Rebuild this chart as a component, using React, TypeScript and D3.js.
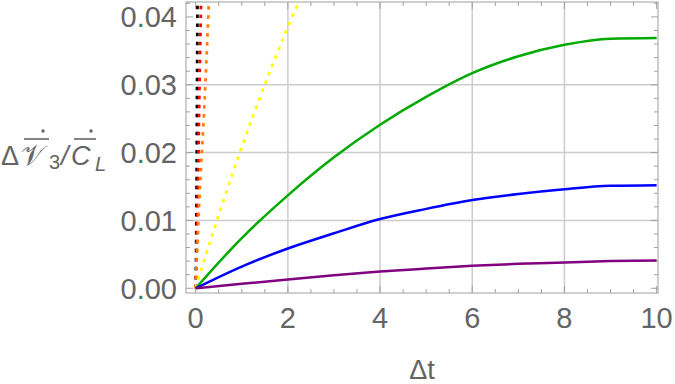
import React, { useRef, useEffect } from "react";
import * as d3 from "d3";

// solid curves, read at integer Δt
const dtGrid = [0, 1, 2, 3, 4, 5, 6, 7, 8, 9, 10];
const purpleVals = [0, 0.00065, 0.00128, 0.0019, 0.00246, 0.0029, 0.0033, 0.0036, 0.0038, 0.004, 0.0041];
const blueVals = [0, 0.0032, 0.00586, 0.0081, 0.0102, 0.0117, 0.013, 0.0139, 0.0146, 0.0151, 0.0152];
const greenVals = [0, 0.0074, 0.0137, 0.0193, 0.0241, 0.0282, 0.0317, 0.0342, 0.0359, 0.0368, 0.0369];

// dashed curves (steep, run off the top)
const yellowX = [0, 0.25, 0.5, 1, 1.5, 2, 2.3];
const yellowY = [0, 0.0055, 0.0108, 0.0208, 0.03, 0.0385, 0.0432];
const orangeX = [0, 0.08, 0.21, 0.29];
const orangeY = [0, 0.013, 0.03, 0.043];
const redX = [0, 0.045, 0.083, 0.118];
const redY = [0, 0.013, 0.03, 0.043];
const blackX = [0, 0.02, 0.03, 0.04];
const blackY = [0, 0.015, 0.03, 0.043];

const xTicks = [0, 2, 4, 6, 8, 10];
const yTicks = [0, 0.01, 0.02, 0.03, 0.04];
const xGrid = [2, 4, 6, 8];
const yGrid = [0.01, 0.02, 0.03];

const W = 675;
const H = 384;
const box = { left: 186, right: 658, top: 2, bottom: 293 };

const App: React.FC = () => {
  const svgRef = useRef<SVGSVGElement>(null);

  useEffect(() => {
    if (!svgRef.current) return;
    const svg = d3.select(svgRef.current);
    svg.selectAll("*").remove();

    const x = d3.scaleLinear().domain([-0.21, 10.03]).range([box.left, box.right]);
    const y = d3.scaleLinear().domain([-0.0007, 0.0422]).range([box.bottom, box.top]);

    const frameCol = "#a0a0a0";
    const labelCol = "#646464";
    const font = "'Liberation Sans', Arial, sans-serif";

    svg
      .append("defs")
      .append("clipPath")
      .attr("id", "plotClip")
      .append("rect")
      .attr("x", box.left)
      .attr("y", box.top)
      .attr("width", box.right - box.left)
      .attr("height", box.bottom - box.top);

    // grid lines
    const grid = svg.append("g").attr("stroke", "#cccccc").attr("stroke-width", 1.5);
    xGrid.forEach((v) => {
      grid.append("line").attr("x1", x(v)).attr("x2", x(v)).attr("y1", box.top).attr("y2", box.bottom);
    });
    yGrid.forEach((v) => {
      grid.append("line").attr("x1", box.left).attr("x2", box.right).attr("y1", y(v)).attr("y2", y(v));
    });

    // frame ticks (all four sides, inward)
    const ticks = svg.append("g").attr("stroke", frameCol).attr("stroke-width", 1);
    const xMinor = d3.range(0, 10.01, 0.5);
    const yMinor = d3.range(0, 0.0421, 0.002);
    xMinor.forEach((v) => {
      const len = Math.abs(v % 2) < 1e-9 ? 7 : 4;
      ticks.append("line").attr("x1", x(v)).attr("x2", x(v)).attr("y1", box.bottom).attr("y2", box.bottom - len);
      ticks.append("line").attr("x1", x(v)).attr("x2", x(v)).attr("y1", box.top).attr("y2", box.top + len);
    });
    yMinor.forEach((v, i) => {
      const len = i % 5 === 0 ? 7 : 4;
      ticks.append("line").attr("x1", box.left).attr("x2", box.left + len).attr("y1", y(v)).attr("y2", y(v));
      ticks.append("line").attr("x1", box.right).attr("x2", box.right - len).attr("y1", y(v)).attr("y2", y(v));
    });

    // curves
    const plot = svg.append("g").attr("clip-path", "url(#plotClip)");
    const line = d3
      .line<[number, number]>()
      .x((d) => x(d[0]))
      .y((d) => y(d[1]))
      .curve(d3.curveMonotoneX);

    const dashed: [number[], number[], string][] = [
      [blackX, blackY, "#000000"],
      [redX, redY, "#ff0000"],
      [orangeX, orangeY, "#ff8000"],
      [yellowX, yellowY, "#ffff00"],
    ];
    dashed.forEach(([xs, ys, c]) => {
      plot
        .append("path")
        .datum(xs.map((v, i) => [v, ys[i]] as [number, number]))
        .attr("fill", "none")
        .attr("stroke", c)
        .attr("stroke-width", 2.8)
        .attr("stroke-dasharray", "3.5,5.5")
        .attr("d", line);
    });

    const solid: [number[], string][] = [
      [greenVals, "#00aa00"],
      [blueVals, "#0000ff"],
      [purpleVals, "#800080"],
    ];
    solid.forEach(([ys, c]) => {
      plot
        .append("path")
        .datum(dtGrid.map((v, i) => [v, ys[i]] as [number, number]))
        .attr("fill", "none")
        .attr("stroke", c)
        .attr("stroke-width", 2.5)
        .attr("d", line);
    });

    // frame
    svg
      .append("rect")
      .attr("x", box.left)
      .attr("y", box.top)
      .attr("width", box.right - box.left)
      .attr("height", box.bottom - box.top)
      .attr("fill", "none")
      .attr("stroke", frameCol)
      .attr("stroke-width", 1);

    // tick labels
    const lbl = svg.append("g").attr("fill", labelCol).attr("font-family", font).attr("font-size", 29);
    xTicks.forEach((v) => {
      lbl.append("text").attr("x", x(v)).attr("y", 328).attr("text-anchor", "middle").text(String(v));
    });
    yTicks.forEach((v) => {
      lbl
        .append("text")
        .attr("x", 177)
        .attr("y", y(v) + 10.4)
        .attr("text-anchor", "end")
        .text(d3.format(".2f")(v));
    });

    // axis labels
    lbl
      .append("text")
      .attr("x", (box.left + box.right) / 2)
      .attr("y", 379)
      .attr("text-anchor", "middle")
      .attr("font-size", 27)
      .text("Δt");

    const yl = svg.append("g").attr("fill", labelCol).attr("font-family", font);
    yl.append("text").attr("x", 1).attr("y", 165).attr("font-size", 27).text("Δ");
    yl.append("text")
      .attr("x", 21)
      .attr("y", 165)
      .attr("font-size", 28)
      .attr("font-family", "'DejaVu Sans', 'DejaVu Serif', serif")
      .text("𝒱");
    yl.append("text").attr("x", 49).attr("y", 169).attr("font-size", 20).text("3");
    yl.append("text").attr("x", 61).attr("y", 165).attr("font-size", 27).attr("font-style", "italic").text("/");
    yl.append("text").attr("x", 71).attr("y", 165).attr("font-size", 27).attr("font-style", "italic").text("C");
    yl.append("text").attr("x", 95).attr("y", 171).attr("font-size", 20).attr("font-style", "italic").text("L");
    // overbars and dots
    yl.append("line").attr("x1", 24).attr("x2", 49).attr("y1", 139).attr("y2", 139).attr("stroke", labelCol).attr("stroke-width", 1.6);
    yl.append("line").attr("x1", 74).attr("x2", 96).attr("y1", 139).attr("y2", 139).attr("stroke", labelCol).attr("stroke-width", 1.6);
    yl.append("circle").attr("cx", 43).attr("cy", 131).attr("r", 1.7);
    yl.append("circle").attr("cx", 91).attr("cy", 131).attr("r", 1.7);
  }, []);

  return (
    <svg
      ref={svgRef}
      width={W}
      height={H}
      style={{ position: "absolute", left: 0, top: 0, background: "#fff" }}
    />
  );
};

export default App;
